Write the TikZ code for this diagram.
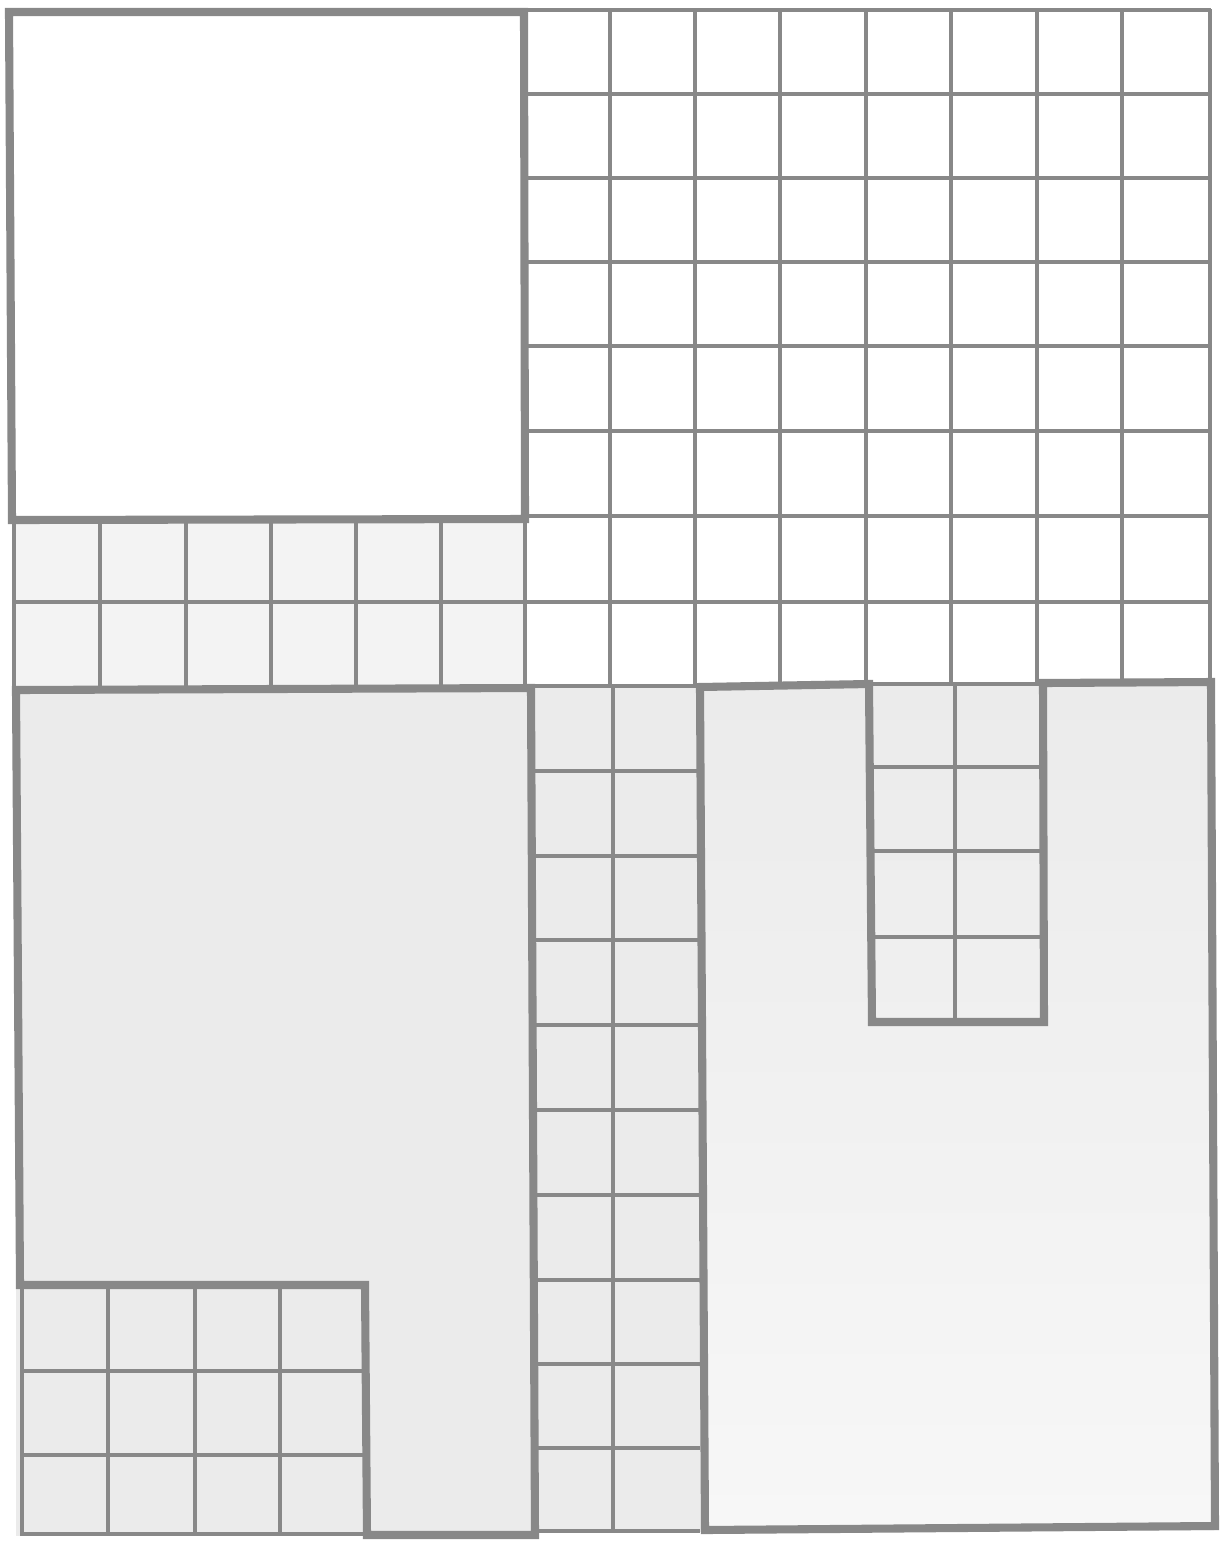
\documentclass[tikz,border=0pt]{standalone}
\usepackage{xcolor}
\definecolor{ln}{RGB}{136,136,136}
\definecolor{pg}{RGB}{235,235,235}
\definecolor{pl}{RGB}{243,243,243}
\definecolor{pw}{RGB}{247,247,247}
\begin{document}
\begin{tikzpicture}[x=0.02cm,y=-0.02cm,
  gridline/.style={draw=ln,line width=2.4pt,line cap=butt},
  outline/.style={draw=ln,line width=4.6pt,line join=miter,line cap=rect}]
\useasboundingbox (0,0) rectangle (1225,1543);
\fill[white] (0,0) rectangle (1225,1543);
% background tones
\fill[pl] (12,519) rectangle (527,688);
\fill[pg] (16,688) rectangle (534,1536);
\fill[pg] (534,686) rectangle (701,1532);
\shade[top color=pg,bottom color=pw] (701,684) rectangle (1214,1530);
% ---- top-right grid (thin)
\foreach \x in {610,695,780,866,951,1037,1122,1210}
  \draw[gridline] (\x,9) -- (\x,684);
\foreach \y in {10,94,178,262,346,431,516}
  \draw[gridline] (523,\y) -- (1211,\y);
\draw[gridline] (13,602) -- (1211,602);
\draw[gridline] (524,686) -- (700,686);
\draw[gridline] (870,684) -- (1043,684);
% ---- left strip under the square
\foreach \x in {14,100,186,271,356,441,525}
  \draw[gridline] (\x,519) -- (\x,689);
% ---- middle column
\draw[gridline] (613,686) -- (613,1532);
\foreach \y in {771,856,940,1025,1110,1195,1280,1364,1448,1531}
  \draw[gridline] (532,\y) -- (700,\y);
% ---- notch grid
\draw[gridline] (955,684) -- (955,1022);
\foreach \y in {767,851,937}
  \draw[gridline] (870,\y) -- (1043,\y);
% ---- bottom-left small grid
\draw[gridline,line cap=rect] (22,1285) -- (22,1534) -- (366,1534);
\foreach \x in {108,195,280}
  \draw[gridline] (\x,1285) -- (\x,1534);
\foreach \y in {1371,1455}
  \draw[gridline] (22,\y) -- (366,\y);
% ---- thick outlines
\draw[outline] (9,12) -- (524,12) -- (525,519) -- (12,520) -- cycle;
\draw[outline] (16,690) -- (531,688) -- (535,1535) -- (367,1535) -- (365,1285) -- (20,1285) -- cycle;
\draw[outline] (700,687) -- (869,684) -- (872,1022) -- (1044,1022) -- (1043,683) -- (1211,682) -- (1215,1526) -- (705,1530) -- cycle;
\end{tikzpicture}
\end{document}
